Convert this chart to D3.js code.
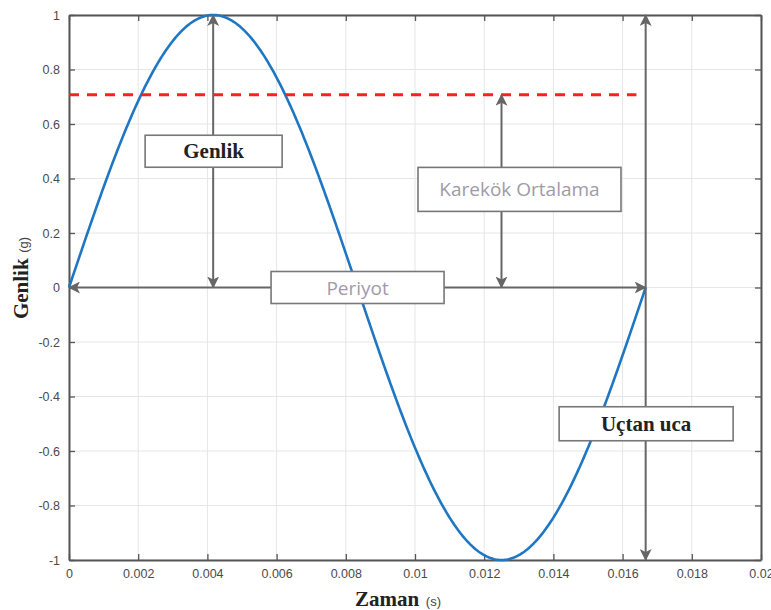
<!DOCTYPE html>
<html><head><meta charset="utf-8">
<script src="https://cdn.jsdelivr.net/npm/d3@7"></script>
<style>body{margin:0;background:#fff}</style>
</head><body>
<svg id="c" width="771" height="610"></svg>
<script>
// Data
const freq = 60;                 // Hz
const period = 1 / freq;         // 0.016667 s
const amplitude = 1;
const rmsValue = 0.707;
const xTicks = [0, 0.002, 0.004, 0.006, 0.008, 0.01, 0.012, 0.014, 0.016, 0.018, 0.02];
const xTickLabels = ["0", "0.002", "0.004", "0.006", "0.008", "0.01", "0.012", "0.014", "0.016", "0.018", "0.02"];
const yTicks = [-1, -0.8, -0.6, -0.4, -0.2, 0, 0.2, 0.4, 0.6, 0.8, 1];
const yTickLabels = ["-1", "-0.8", "-0.6", "-0.4", "-0.2", "0", "0.2", "0.4", "0.6", "0.8", "1"];
const sampleTimes = d3.range(0, 401).map(i => i * period / 400);
const signal = sampleTimes.map(t => ({t, v: amplitude * Math.sin(2 * Math.PI * freq * t)}));
const annotations = [
  {label: "Genlik", t: 0.00418, v: 0.50, style: "serif"},
  {label: "Karekök Ortalama", t: 0.01302, v: 0.36, style: "sans"},
  {label: "Periyot", t: 0.00834, v: 0.0, style: "sans"},
  {label: "Uçtan uca", t: 0.01668, v: -0.50, style: "serif"}
];

const svg = d3.select("#c");
const L = 69, R = 761, T = 15, B = 560;
const x = d3.scaleLinear().domain([0, 0.02]).range([L, R]);
const y = d3.scaleLinear().domain([-1, 1]).range([B, T]);
const axisCol = "#555";

// grid
const g = svg.append("g");
g.selectAll(".gx").data(xTicks).join("line")
  .attr("x1", d => x(d)).attr("x2", d => x(d)).attr("y1", T).attr("y2", B)
  .attr("stroke", "#e6e6e6").attr("stroke-width", 1);
g.selectAll(".gy").data(yTicks).join("line")
  .attr("y1", d => y(d)).attr("y2", d => y(d)).attr("x1", L).attr("x2", R)
  .attr("stroke", "#e6e6e6").attr("stroke-width", 1);

// axes
const fmtX = (d, i) => xTickLabels[i];
const fmtY = (d, i) => yTickLabels[i];
const ax = svg.append("g").attr("transform", `translate(0,${B})`)
  .call(d3.axisBottom(x).tickValues(xTicks).tickFormat(fmtX).tickSizeInner(-6).tickSizeOuter(0).tickPadding(9));
const axT = svg.append("g").attr("transform", `translate(0,${T})`)
  .call(d3.axisTop(x).tickValues(xTicks).tickFormat("").tickSizeInner(-6).tickSizeOuter(0));
const ay = svg.append("g").attr("transform", `translate(${L},0)`)
  .call(d3.axisLeft(y).tickValues(yTicks).tickFormat(fmtY).tickSizeInner(-6).tickSizeOuter(0).tickPadding(9));
const ayR = svg.append("g").attr("transform", `translate(${R},0)`)
  .call(d3.axisRight(y).tickValues(yTicks).tickFormat("").tickSizeInner(-6).tickSizeOuter(0));
[ax, axT, ay, ayR].forEach(a => {
  a.select(".domain").attr("stroke", axisCol).attr("stroke-width", 2);
  a.selectAll(".tick line").attr("stroke", axisCol).attr("stroke-width", 1.3);
  a.selectAll("text").attr("fill", "#4a4a4a").attr("font-family", "Liberation Sans, Arial, sans-serif").attr("font-size", 12.5);
});

// curve
svg.append("path").datum(signal)
  .attr("d", d3.line().x(d => x(d.t)).y(d => y(d.v)))
  .attr("fill", "none").attr("stroke", "#1f77c4").attr("stroke-width", 2.6);

// RMS line
svg.append("line").attr("x1", x(0)).attr("x2", x(0.0164)).attr("y1", y(rmsValue)).attr("y2", y(rmsValue))
  .attr("stroke", "#ff1f1f").attr("stroke-width", 3).attr("stroke-dasharray", "10,8");

// arrows
const arrCol = "#666";
const defs = svg.append("defs");
defs.append("marker").attr("id", "ah").attr("viewBox", "0 0 12 12").attr("refX", 11).attr("refY", 6)
  .attr("markerWidth", 12).attr("markerHeight", 12).attr("markerUnits", "userSpaceOnUse").attr("orient", "auto-start-reverse")
  .append("path").attr("d", "M0,0 L12,6 L0,12 L3,6 Z").attr("fill", arrCol);
const arrows = [
  {x1: period / 4, y1: 0, x2: period / 4, y2: amplitude, both: true},
  {x1: 0.0125, y1: 0, x2: 0.0125, y2: rmsValue, both: true},
  {x1: 0, y1: 0, x2: period, y2: 0, both: true},
  {x1: period, y1: -amplitude, x2: period, y2: amplitude, both: true}
];
svg.selectAll(".arr").data(arrows).join("line")
  .attr("x1", d => x(d.x1)).attr("y1", d => y(d.y1)).attr("x2", d => x(d.x2)).attr("y2", d => y(d.y2))
  .attr("stroke", arrCol).attr("stroke-width", 2)
  .attr("marker-end", "url(#ah)").attr("marker-start", d => d.both ? "url(#ah)" : null);

// annotation boxes
const boxes = svg.selectAll(".box").data(annotations).join("g")
  .attr("transform", d => `translate(${x(d.t)},${y(d.v)})`);
boxes.append("text")
  .attr("text-anchor", "middle").attr("dominant-baseline", "central")
  .attr("font-family", d => d.style === "serif" ? "Liberation Serif, Times New Roman, serif" : "Open Sans, Liberation Sans, sans-serif")
  .attr("font-weight", d => d.style === "serif" ? "bold" : "normal")
  .attr("font-size", d => d.style === "serif" ? 21 : 19)
  .attr("fill", d => d.style === "serif" ? "#222" : "#a09aa8")
  .text(d => d.label);
const boxSize = {"Genlik": [137, 32], "Karekök Ortalama": [203, 44], "Periyot": [173, 32], "Uçtan uca": [174, 34]};
boxes.insert("rect", "text")
  .attr("x", d => -boxSize[d.label][0] / 2).attr("y", d => -boxSize[d.label][1] / 2)
  .attr("width", d => boxSize[d.label][0]).attr("height", d => boxSize[d.label][1])
  .attr("fill", "#fff").attr("stroke", "#777").attr("stroke-width", 1.6);

// axis labels
const xl = svg.append("text").attr("x", 398).attr("y", 606).attr("text-anchor", "middle");
xl.append("tspan").text("Zaman").attr("font-family", "Liberation Serif, serif").attr("font-weight", "bold").attr("font-size", 21).attr("fill", "#222");
xl.append("tspan").text(" (s)").attr("font-family", "Liberation Sans, sans-serif").attr("font-size", 13).attr("fill", "#444").attr("dx", 3);
const yl = svg.append("text").attr("transform", "translate(28,278) rotate(-90)").attr("text-anchor", "middle");
yl.append("tspan").text("Genlik").attr("font-family", "Liberation Serif, serif").attr("font-weight", "bold").attr("font-size", 21).attr("fill", "#222");
yl.append("tspan").text(" (g)").attr("font-family", "Liberation Sans, sans-serif").attr("font-size", 13).attr("fill", "#444").attr("dx", 2);
</script>
</body></html>
